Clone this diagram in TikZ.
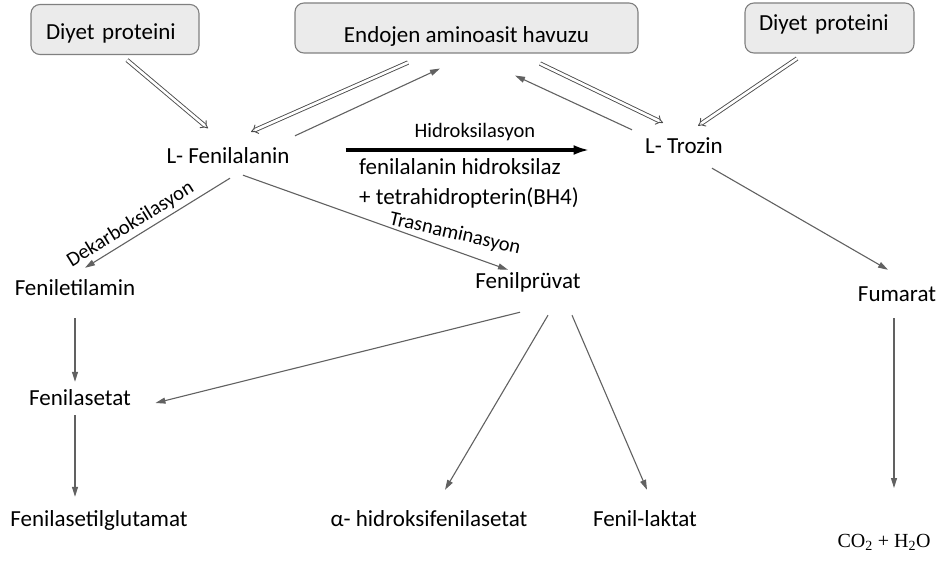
\documentclass[tikz,border=0pt]{standalone}
\usepackage{fontspec}
\setmainfont{Carlito}
\newfontfamily\chemserif{Liberation Serif}
\usetikzlibrary{arrows.meta}
\colorlet{linegray}{black!62}
\colorlet{boxfill}{black!8}
\tikzset{
  chem/.style={inner sep=0pt, text height=16pt, text depth=5pt, font=\fontsize{23}{27}\selectfont},
  pool/.style={draw=black!50, fill=boxfill, rounded corners=9pt, line width=1.1pt,
    inner ysep=0pt, text depth=5pt, minimum height=50pt, font=\fontsize{23}{27}\selectfont},
  flow/.style={draw=linegray, line width=1.1pt, -{Triangle[length=10pt,width=6pt]}},
  dbl/.style={draw=black!70, double, double distance=2.6pt, line width=0.9pt, -{Implies[scale=1.7]}},
  lbl/.style={font=\fontsize{20.5}{24}\selectfont, text=black}
}

\begin{document}
\begin{tikzpicture}[x=1pt, y=-1pt]
\useasboundingbox (0,0) rectangle (941,561);
% sources
\node[pool, text height=26pt, text width=138pt, inner xsep=15pt, align=left] (diet1) at (115,29.5) {Diyet proteini};
\node[pool, text height=34pt, minimum width=343pt] (havuz) at (466.5,28) {Endojen aminoasit havuzu};
\node[pool, text height=10pt, text width=141pt, inner xsep=14pt, align=left] (diet2) at (829.5,28) {Diyet proteini};
% metabolites
\node[chem] (lfen) at (228,158) {L- Fenilalanin};
\node[chem] (ltro) at (684,148) {L- Trozin};
\node[chem] (fenet) at (75,290) {Feniletilamin};
\node[chem] (fenpr) at (528,283) {Fenilprüvat};
\node[chem] (fum) at (897,296) {Fumarat};
\node[chem] (fenas) at (80,400) {Fenilasetat};
\node[chem] (fenglu) at (99,521) {Fenilasetilglutamat};
\node[chem] (ahid) at (429,521) {α- hidroksifenilasetat};
\node[chem] (flak) at (645,521) {Fenil-laktat};
\node[inner sep=0pt, text height=13pt, text depth=4pt, font=\fontsize{20}{24}\chemserif] (co2) at (884,543) {CO\textsubscript{2} + H\textsubscript{2}O};
\node[font=\fontsize{23}{30}\selectfont, align=left, anchor=base west, inner sep=0pt] (enzim) at (359,205)
  {fenilalanin hidroksilaz\\+ tetrahidropterin(BH4)};

% pool exchange
\draw[dbl] ([shift={(12,5)}]diet1.south) -- ([shift={(-20,-19)}]lfen.north);
\draw[dbl] ([shift={(-58.5,9)}]havuz.south) -- ([shift={(23,-15.5)}]lfen.north);
\draw[flow] ([shift={(67,-11.5)}]lfen.north) -- ([shift={(-26.5,15)}]havuz.south);
\draw[dbl] ([shift={(73.5,10)}]havuz.south) -- ([shift={(-21,-14.5)}]ltro.north);
\draw[flow] ([shift={(-52,-7.5)}]ltro.north) -- ([shift={(48.5,22)}]havuz.south);
\draw[dbl] ([shift={(-32.5,5)}]diet2.south) -- ([shift={(14,-11.5)}]ltro.north);

% hydroxylation
\draw[line width=3.4pt, -{Latex[length=16pt,width=10pt]}] ([shift={(56,-8)}]lfen.east) -- ([shift={(-55.5,2)}]ltro.west)
  node[lbl, pos=0.53, above=4pt] {Hidroksilasyon};

% side routes
\draw[flow] ([shift={(2,9.5)}]lfen.south) -- ([shift={(10,-11.5)}]fenet.north)
  node[lbl, pos=0.64, sloped, above] {Dekarboksilasyon};
\draw[flow] ([shift={(15,6.5)}]lfen.south) -- ([shift={(-20,-2.5)}]fenpr.north)
  node[lbl, pos=0.8, yshift=17pt, rotate=-13] {Trasnaminasyon};
\draw[flow] ([shift={(28,9.5)}]ltro.south) -- ([shift={(-9,-15.5)}]fum.north);
\draw[flow] ([shift={(0,17.5)}]fenet.south) -- ([shift={(-5,-7.5)}]fenas.north);
\draw[flow] ([shift={(-5,4.5)}]fenas.south) -- ([shift={(-24,-13.5)}]fenglu.north);
\draw[flow] ([shift={(-8,18.5)}]fenpr.south) -- ([shift={(24.5,3)}]fenas.east);
\draw[flow] ([shift={(20,21.5)}]fenpr.south) -- ([shift={(16,-20.5)}]ahid.north);
\draw[flow] ([shift={(44,21.5)}]fenpr.south) -- ([shift={(2,-20.5)}]flak.north);
\draw[flow] ([shift={(-3,11.5)}]fum.south) -- ([shift={(10,-55)}]co2.center);
\end{tikzpicture}
\end{document}
